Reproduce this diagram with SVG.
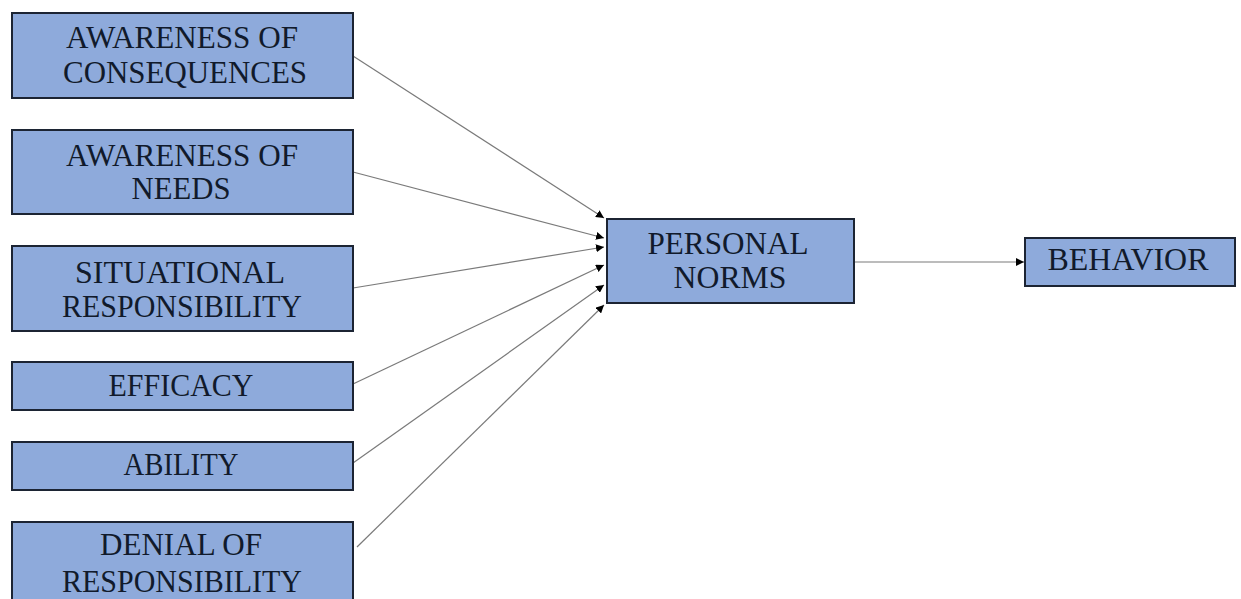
<svg xmlns="http://www.w3.org/2000/svg" width="1241" height="599" viewBox="0 0 1241 599">
<style>
.box{fill:#8eaadb;stroke:#1c2433;stroke-width:2}
.t{font-family:"Liberation Serif","DejaVu Serif",serif;font-size:31px;fill:#111a2b;text-anchor:middle}
.c{stroke:#7a7a7a;stroke-width:1.2;fill:none;marker-end:url(#ah)}
</style>
<defs>
<marker id="ah" viewBox="0 0 10 10" refX="10" refY="5" markerWidth="8" markerHeight="8" markerUnits="userSpaceOnUse" orient="auto">
<path d="M0,0 L10,5 L0,10 z" fill="#000"/>
</marker>
</defs>
<rect width="1241" height="599" fill="#fff"/>
<g id="connectors">
<line class="c" x1="353" y1="56" x2="604" y2="218"/>
<line class="c" x1="353" y1="172" x2="604" y2="238"/>
<line class="c" x1="353" y1="288" x2="604" y2="247"/>
<line class="c" x1="353" y1="384" x2="604" y2="265"/>
<line class="c" x1="353" y1="463" x2="604" y2="285"/>
<line class="c" x1="357" y1="547" x2="604" y2="305"/>
<line class="c" x1="855" y1="262" x2="1024" y2="262"/>
</g>
<g id="awareness-consequences">
<rect class="box" x="12" y="13" width="341" height="85"/>
<text class="t" x="182" y="48" textLength="232" lengthAdjust="spacingAndGlyphs">AWARENESS OF</text>
<text class="t" x="185" y="83" textLength="244" lengthAdjust="spacingAndGlyphs">CONSEQUENCES</text>
</g>
<g id="awareness-needs">
<rect class="box" x="12" y="130" width="341" height="84"/>
<text class="t" x="182" y="166" textLength="232" lengthAdjust="spacingAndGlyphs">AWARENESS OF</text>
<text class="t" x="181" y="199" textLength="99" lengthAdjust="spacingAndGlyphs">NEEDS</text>
</g>
<g id="situational-responsibility">
<rect class="box" x="12" y="246" width="341" height="85"/>
<text class="t" x="180" y="283" textLength="210" lengthAdjust="spacingAndGlyphs">SITUATIONAL</text>
<text class="t" x="182" y="317" textLength="240" lengthAdjust="spacingAndGlyphs">RESPONSIBILITY</text>
</g>
<g id="efficacy">
<rect class="box" x="12" y="362" width="341" height="48"/>
<text class="t" x="181" y="396" textLength="145" lengthAdjust="spacingAndGlyphs">EFFICACY</text>
</g>
<g id="ability">
<rect class="box" x="12" y="442" width="341" height="48"/>
<text class="t" x="181" y="475" textLength="115" lengthAdjust="spacingAndGlyphs">ABILITY</text>
</g>
<g id="denial-responsibility">
<rect class="box" x="12" y="522" width="341" height="90"/>
<text class="t" x="181" y="555" textLength="162" lengthAdjust="spacingAndGlyphs">DENIAL OF</text>
<text class="t" x="182" y="592" textLength="240" lengthAdjust="spacingAndGlyphs">RESPONSIBILITY</text>
</g>
<g id="personal-norms">
<rect class="box" x="607" y="219" width="247" height="84"/>
<text class="t" x="728" y="254" textLength="161" lengthAdjust="spacingAndGlyphs">PERSONAL</text>
<text class="t" x="730" y="288" textLength="113" lengthAdjust="spacingAndGlyphs">NORMS</text>
</g>
<g id="behavior">
<rect class="box" x="1025" y="238" width="210" height="48"/>
<text class="t" x="1128" y="270" textLength="161" lengthAdjust="spacingAndGlyphs">BEHAVIOR</text>
</g>
</svg>
